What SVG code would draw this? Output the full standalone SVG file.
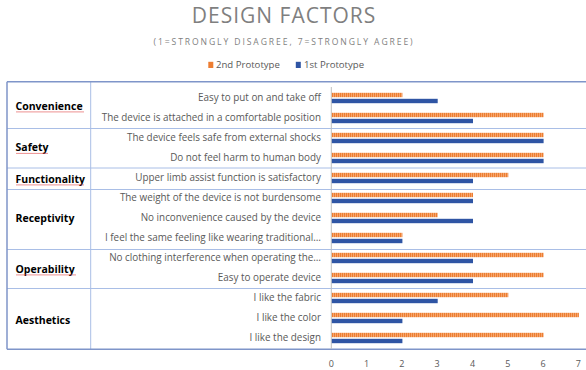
<svg xmlns="http://www.w3.org/2000/svg" width="586" height="370" viewBox="0 0 586 370">
<defs>
<pattern id="stripe" width="2" height="6" patternUnits="userSpaceOnUse">
<rect x="0" y="0" width="2" height="6" fill="#F4A56D"/>
<rect x="0" y="0" width="1" height="6" fill="#ED7D31"/>
</pattern>
<style>
.title{font-family:"Open Sans","Liberation Sans",sans-serif;fill:#7F7F7F}
.item{font-family:"Open Sans","Liberation Sans",sans-serif;font-size:9.9px;fill:#595959;text-anchor:end}
.cat{font-family:"Open Sans","Liberation Sans",sans-serif;font-size:10.5px;font-weight:bold;fill:#000}
.tick{font-family:"Open Sans","Liberation Sans",sans-serif;font-size:9px;fill:#595959;text-anchor:middle}
.leg{font-family:"Open Sans","Liberation Sans",sans-serif;font-size:9.6px;fill:#595959}
.o{fill:url(#stripe)}
.b{fill:#2F55A4}
.sep{stroke:#A9BEE6;stroke-width:1;fill:none}
.outer{stroke:#7F95C9;stroke-width:1.5;fill:none}
.sq{stroke:#E04545;stroke-width:0.6;fill:none}
</style>
</defs>
<rect width="586" height="370" fill="#fff"/>
<g id="title">
<text class="title" x="284" y="23" font-size="21" letter-spacing="1" text-anchor="middle">DESIGN FACTORS</text>
<text class="title" x="284" y="44.5" font-size="8.6" letter-spacing="1.9" text-anchor="middle">(1=STRONGLY DISAGREE, 7=STRONGLY AGREE)</text>
</g>
<g id="legend">
<rect x="208.3" y="61.8" width="5" height="6.2" fill="#ED7D31"/>
<text class="leg" x="216" y="68.3">2nd Prototype</text>
<rect x="295.8" y="61.8" width="5" height="6.2" fill="#2F55A4"/>
<text class="leg" x="304" y="68.3">1st Prototype</text>
</g>
<g id="connectors">
<line class="sep" x1="90.7" y1="82" x2="90.7" y2="349"/>
<line class="sep" x1="7" y1="128.5" x2="586" y2="128.5"/>
<line class="sep" x1="7" y1="168" x2="586" y2="168"/>
<line class="sep" x1="7" y1="189.5" x2="586" y2="189.5"/>
<line class="sep" x1="7" y1="249.5" x2="586" y2="249.5"/>
<line class="sep" x1="7" y1="288.5" x2="586" y2="288.5"/>
<line class="outer" x1="7" y1="81.8" x2="586" y2="81.8"/>
<line class="outer" x1="7" y1="349.3" x2="586" y2="349.3"/>
<line class="outer" x1="7" y1="81.8" x2="7" y2="349.3"/>
<line x1="331.3" y1="87" x2="331.3" y2="349" stroke="#BFBFBF" stroke-width="1"/>
</g>
<g id="categories">
<g id="cat-convenience"><text class="cat" x="15.5" y="109.5">Convenience</text><path class="sq" d="M16,112.3 l1,-0.8 l1,0.8 l1,-0.8 l1,0.8 l1,-0.8 l1,0.8 l1,-0.8 l1,0.8 l1,-0.8 l1,0.8 l1,-0.8 l1,0.8 l1,-0.8 l1,0.8 l1,-0.8 l1,0.8 l1,-0.8 l1,0.8 l1,-0.8 l1,0.8 l1,-0.8 l1,0.8 l1,-0.8 l1,0.8 l1,-0.8 l1,0.8 l1,-0.8 l1,0.8 l1,-0.8 l1,0.8 l1,-0.8 l1,0.8 l1,-0.8 l1,0.8 l1,-0.8 l1,0.8 l1,-0.8 l1,0.8 l1,-0.8 l1,0.8 l1,-0.8 l1,0.8 l1,-0.8 l1,0.8 l1,-0.8 l1,0.8 l1,-0.8 l1,0.8 l1,-0.8 l1,0.8 l1,-0.8 l1,0.8 l1,-0.8 l1,0.8 l1,-0.8 l1,0.8 l1,-0.8 l1,0.8 l1,-0.8 l1,0.8 l1,-0.8 l1,0.8 l1,-0.8 l1,0.8 l1,-0.8 l1,0.8 l1,-0.8 l1,0.8"/></g>
<g id="cat-safety"><text class="cat" x="15.5" y="151">Safety</text><path class="sq" d="M16,153.8 l1,-0.8 l1,0.8 l1,-0.8 l1,0.8 l1,-0.8 l1,0.8 l1,-0.8 l1,0.8 l1,-0.8 l1,0.8 l1,-0.8 l1,0.8 l1,-0.8 l1,0.8 l1,-0.8 l1,0.8 l1,-0.8 l1,0.8 l1,-0.8 l1,0.8 l1,-0.8 l1,0.8 l1,-0.8 l1,0.8 l1,-0.8 l1,0.8 l1,-0.8 l1,0.8 l1,-0.8 l1,0.8 l1,-0.8 l1,0.8"/></g>
<g id="cat-functionality"><text class="cat" x="15.5" y="182.5">Functionality</text><path class="sq" d="M16,185.3 l1,-0.8 l1,0.8 l1,-0.8 l1,0.8 l1,-0.8 l1,0.8 l1,-0.8 l1,0.8 l1,-0.8 l1,0.8 l1,-0.8 l1,0.8 l1,-0.8 l1,0.8 l1,-0.8 l1,0.8 l1,-0.8 l1,0.8 l1,-0.8 l1,0.8 l1,-0.8 l1,0.8 l1,-0.8 l1,0.8 l1,-0.8 l1,0.8 l1,-0.8 l1,0.8 l1,-0.8 l1,0.8 l1,-0.8 l1,0.8 l1,-0.8 l1,0.8 l1,-0.8 l1,0.8 l1,-0.8 l1,0.8 l1,-0.8 l1,0.8 l1,-0.8 l1,0.8 l1,-0.8 l1,0.8 l1,-0.8 l1,0.8 l1,-0.8 l1,0.8 l1,-0.8 l1,0.8 l1,-0.8 l1,0.8 l1,-0.8 l1,0.8 l1,-0.8 l1,0.8 l1,-0.8 l1,0.8 l1,-0.8 l1,0.8 l1,-0.8 l1,0.8 l1,-0.8 l1,0.8 l1,-0.8 l1,0.8 l1,-0.8 l1,0.8"/></g>
<g id="cat-receptivity"><text class="cat" x="15.5" y="221.5">Receptivity</text></g>
<g id="cat-operability"><text class="cat" x="15.5" y="272.5">Operability</text><path class="sq" d="M16,275.3 l1,-0.8 l1,0.8 l1,-0.8 l1,0.8 l1,-0.8 l1,0.8 l1,-0.8 l1,0.8 l1,-0.8 l1,0.8 l1,-0.8 l1,0.8 l1,-0.8 l1,0.8 l1,-0.8 l1,0.8 l1,-0.8 l1,0.8 l1,-0.8 l1,0.8 l1,-0.8 l1,0.8 l1,-0.8 l1,0.8 l1,-0.8 l1,0.8 l1,-0.8 l1,0.8 l1,-0.8 l1,0.8 l1,-0.8 l1,0.8 l1,-0.8 l1,0.8 l1,-0.8 l1,0.8 l1,-0.8 l1,0.8 l1,-0.8 l1,0.8 l1,-0.8 l1,0.8 l1,-0.8 l1,0.8 l1,-0.8 l1,0.8 l1,-0.8 l1,0.8 l1,-0.8 l1,0.8 l1,-0.8 l1,0.8 l1,-0.8 l1,0.8 l1,-0.8 l1,0.8 l1,-0.8 l1,0.8 l1,-0.8 l1,0.8"/></g>
<g id="cat-aesthetics"><text class="cat" x="15.5" y="323.5">Aesthetics</text></g>
</g>
<g id="items">
<text class="item" x="321" y="101.3">Easy to put on and take off</text>
<text class="item" x="321" y="121.3">The device is attached in a comfortable position</text>
<text class="item" x="321" y="141.3">The device feels safe from external shocks</text>
<text class="item" x="321" y="161.3">Do not feel harm to human body</text>
<text class="item" x="321" y="181.3">Upper limb assist function is satisfactory</text>
<text class="item" x="321" y="201.3">The weight of the device is not burdensome</text>
<text class="item" x="321" y="221.3">No inconvenience caused by the device</text>
<text class="item" x="321" y="241.3">I feel the same feeling like wearing traditional…</text>
<text class="item" x="321" y="261.3">No clothing interference when operating the…</text>
<text class="item" x="321" y="281.3">Easy to operate device</text>
<text class="item" x="321" y="301.3">I like the fabric</text>
<text class="item" x="321" y="321.3">I like the color</text>
<text class="item" x="321" y="341.3">I like the design</text>
</g>
<g id="bars">
<rect class="o" x="331.8" y="92.8" width="70.6" height="4.4"/><rect class="b" x="331.8" y="98.8" width="105.9" height="4.4"/>
<rect class="o" x="331.8" y="112.8" width="211.8" height="4.4"/><rect class="b" x="331.8" y="118.8" width="141.2" height="4.4"/>
<rect class="o" x="331.8" y="132.8" width="211.8" height="4.4"/><rect class="b" x="331.8" y="138.8" width="211.8" height="4.4"/>
<rect class="o" x="331.8" y="152.8" width="211.8" height="4.4"/><rect class="b" x="331.8" y="158.8" width="211.8" height="4.4"/>
<rect class="o" x="331.8" y="172.8" width="176.5" height="4.4"/><rect class="b" x="331.8" y="178.8" width="141.2" height="4.4"/>
<rect class="o" x="331.8" y="192.8" width="141.2" height="4.4"/><rect class="b" x="331.8" y="198.8" width="141.2" height="4.4"/>
<rect class="o" x="331.8" y="212.8" width="105.9" height="4.4"/><rect class="b" x="331.8" y="218.8" width="141.2" height="4.4"/>
<rect class="o" x="331.8" y="232.8" width="70.6" height="4.4"/><rect class="b" x="331.8" y="238.8" width="70.6" height="4.4"/>
<rect class="o" x="331.8" y="252.8" width="211.8" height="4.4"/><rect class="b" x="331.8" y="258.8" width="141.2" height="4.4"/>
<rect class="o" x="331.8" y="272.8" width="211.8" height="4.4"/><rect class="b" x="331.8" y="278.8" width="141.2" height="4.4"/>
<rect class="o" x="331.8" y="292.8" width="176.5" height="4.4"/><rect class="b" x="331.8" y="298.8" width="105.9" height="4.4"/>
<rect class="o" x="331.8" y="312.8" width="247.1" height="4.4"/><rect class="b" x="331.8" y="318.8" width="70.6" height="4.4"/>
<rect class="o" x="331.8" y="332.8" width="211.8" height="4.4"/><rect class="b" x="331.8" y="338.8" width="70.6" height="4.4"/>
</g>
<g id="axis">
<text class="tick" x="331.3" y="367">0</text>
<text class="tick" x="366.6" y="367">1</text>
<text class="tick" x="401.9" y="367">2</text>
<text class="tick" x="437.2" y="367">3</text>
<text class="tick" x="472.5" y="367">4</text>
<text class="tick" x="507.8" y="367">5</text>
<text class="tick" x="543.1" y="367">6</text>
<text class="tick" x="578.4" y="367">7</text>
</g>
</svg>
